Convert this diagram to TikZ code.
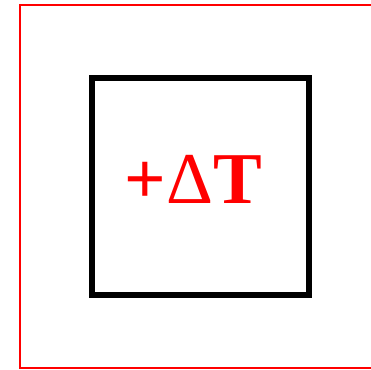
\documentclass[tikz,border=0pt]{standalone}
\usepackage{fontspec}
\setmainfont{Liberation Serif}
\usepackage{tikz}
\usetikzlibrary{positioning}

\begin{document}
\begin{tikzpicture}[
    x=1pt, y=-1pt,
    outer/.style={draw=red, line width=2pt},
    box/.style={draw=black, line width=6pt},
    label/.style={text=red, font=\fontsize{73}{73}\selectfont\bfseries, inner sep=0pt, anchor=base}
]
\useasboundingbox (0,0) rectangle (371,369);

% Frames
\draw[outer] (19.5,5) rectangle (390,367.5);
\draw[box] (92,78) rectangle (308.5,295.3);

% Label
\node[label] (delta) at (193.3,203) {+{\mdseries Δ}T};

\end{tikzpicture}
\end{document}
